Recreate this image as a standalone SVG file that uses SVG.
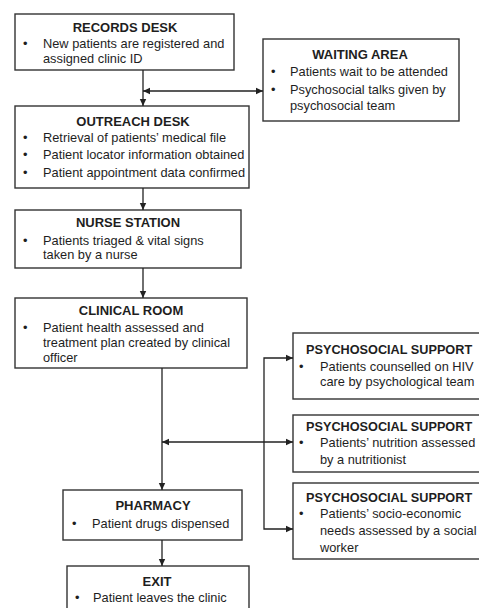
<svg xmlns="http://www.w3.org/2000/svg" width="479" height="608" viewBox="0 0 479 608">
<defs>
<marker id="ah" markerUnits="userSpaceOnUse" markerWidth="8" markerHeight="8" viewBox="0 0 8 8" refX="7" refY="4" orient="auto-start-reverse">
<path d="M0,0.8 L7,4 L0,7.2 Z" fill="#222"/>
</marker>
<style>
rect.box{fill:#fff;stroke:#333;stroke-width:1.4}
text{font-family:"Liberation Sans",Arial,sans-serif;fill:#1e1e1e}
.t{font-size:13px;font-weight:bold;text-anchor:middle}
.ts{font-size:12.7px;font-weight:bold}
.b{font-size:12.8px}
.c path{fill:none;stroke:#222;stroke-width:1.3}
</style>
</defs>
<rect width="479" height="608" fill="#fff"/>

<g id="records">
<rect class="box" x="15" y="14" width="219" height="56"/>
<text class="t" x="125" y="32">RECORDS DESK</text>
<text class="b" x="23" y="48">•</text>
<text class="b" x="43" y="48">New patients are registered and</text>
<text class="b" x="43" y="63">assigned clinic ID</text>
</g>

<g id="waiting">
<rect class="box" x="263" y="39" width="196" height="82"/>
<text class="t" x="360" y="59">WAITING  AREA</text>
<text class="b" x="271" y="76">•</text>
<text class="b" x="290" y="76">Patients wait to  be attended</text>
<text class="b" x="271" y="94">•</text>
<text class="b" x="290" y="94">Psychosocial talks given by</text>
<text class="b" x="290" y="110">psychosocial team</text>
</g>

<g id="outreach">
<rect class="box" x="15" y="106" width="234" height="82"/>
<text class="t" x="133" y="126">OUTREACH DESK</text>
<text class="b" x="23" y="142">•</text>
<text class="b" x="43" y="142">Retrieval of patients’ medical file</text>
<text class="b" x="23" y="159">•</text>
<text class="b" x="43" y="159">Patient locator information obtained</text>
<text class="b" x="23" y="177">•</text>
<text class="b" x="43" y="177">Patient appointment data confirmed</text>
</g>

<g id="nurse">
<rect class="box" x="15" y="210" width="226" height="58"/>
<text class="t" x="128" y="227">NURSE STATION</text>
<text class="b" x="23" y="245">•</text>
<text class="b" x="43" y="245">Patients triaged &amp; vital signs</text>
<text class="b" x="43" y="259">taken by a nurse</text>
</g>

<g id="clinical">
<rect class="box" x="15" y="298" width="232" height="70"/>
<text class="t" x="131" y="315">CLINICAL ROOM</text>
<text class="b" x="23" y="332">•</text>
<text class="b" x="43" y="332">Patient health assessed and</text>
<text class="b" x="43" y="347">treatment plan created by clinical</text>
<text class="b" x="43" y="362">officer</text>
</g>

<g id="psych1">
<rect class="box" x="293" y="333" width="192" height="66"/>
<text class="ts" x="306" y="354">PSYCHOSOCIAL SUPPORT</text>
<text class="b" x="299" y="371">•</text>
<text class="b" x="320" y="371">Patients counselled on HIV</text>
<text class="b" x="320" y="386">care by psychological team</text>
</g>

<g id="psych2">
<rect class="box" x="293" y="415" width="192" height="57"/>
<text class="ts" x="306" y="431">PSYCHOSOCIAL SUPPORT</text>
<text class="b" x="299" y="447">•</text>
<text class="b" x="320" y="447">Patients’ nutrition assessed</text>
<text class="b" x="320" y="464">by a nutritionist</text>
</g>

<g id="psych3">
<rect class="box" x="293" y="483" width="192" height="76"/>
<text class="ts" x="306" y="502">PSYCHOSOCIAL SUPPORT</text>
<text class="b" x="299" y="518">•</text>
<text class="b" x="320" y="518">Patients’ socio-economic</text>
<text class="b" x="320" y="535">needs assessed by a social</text>
<text class="b" x="320" y="552">worker</text>
</g>

<g id="pharmacy">
<rect class="box" x="63" y="490" width="179" height="50"/>
<text class="t" x="153" y="510">PHARMACY</text>
<text class="b" x="72" y="528">•</text>
<text class="b" x="92" y="528">Patient drugs dispensed</text>
</g>

<g id="exit">
<rect class="box" x="67" y="566" width="182" height="50"/>
<text class="t" x="157" y="586">EXIT</text>
<text class="b" x="75" y="602">•</text>
<text class="b" x="93" y="602">Patient leaves the clinic</text>
</g>

<g id="connectors" class="c">
<path d="M143,70 V106" marker-end="url(#ah)"/>
<path d="M143,91 H263" marker-start="url(#ah)" marker-end="url(#ah)"/>
<path d="M143,188 V210" marker-end="url(#ah)"/>
<path d="M143,268 V298" marker-end="url(#ah)"/>
<path d="M162,368 V490" marker-end="url(#ah)"/>
<path d="M162,442 H293" marker-start="url(#ah)" marker-end="url(#ah)"/>
<path d="M293,358 H264 V529 H293" marker-start="url(#ah)" marker-end="url(#ah)"/>
<path d="M162,540 V566" marker-end="url(#ah)"/>
</g>
</svg>
